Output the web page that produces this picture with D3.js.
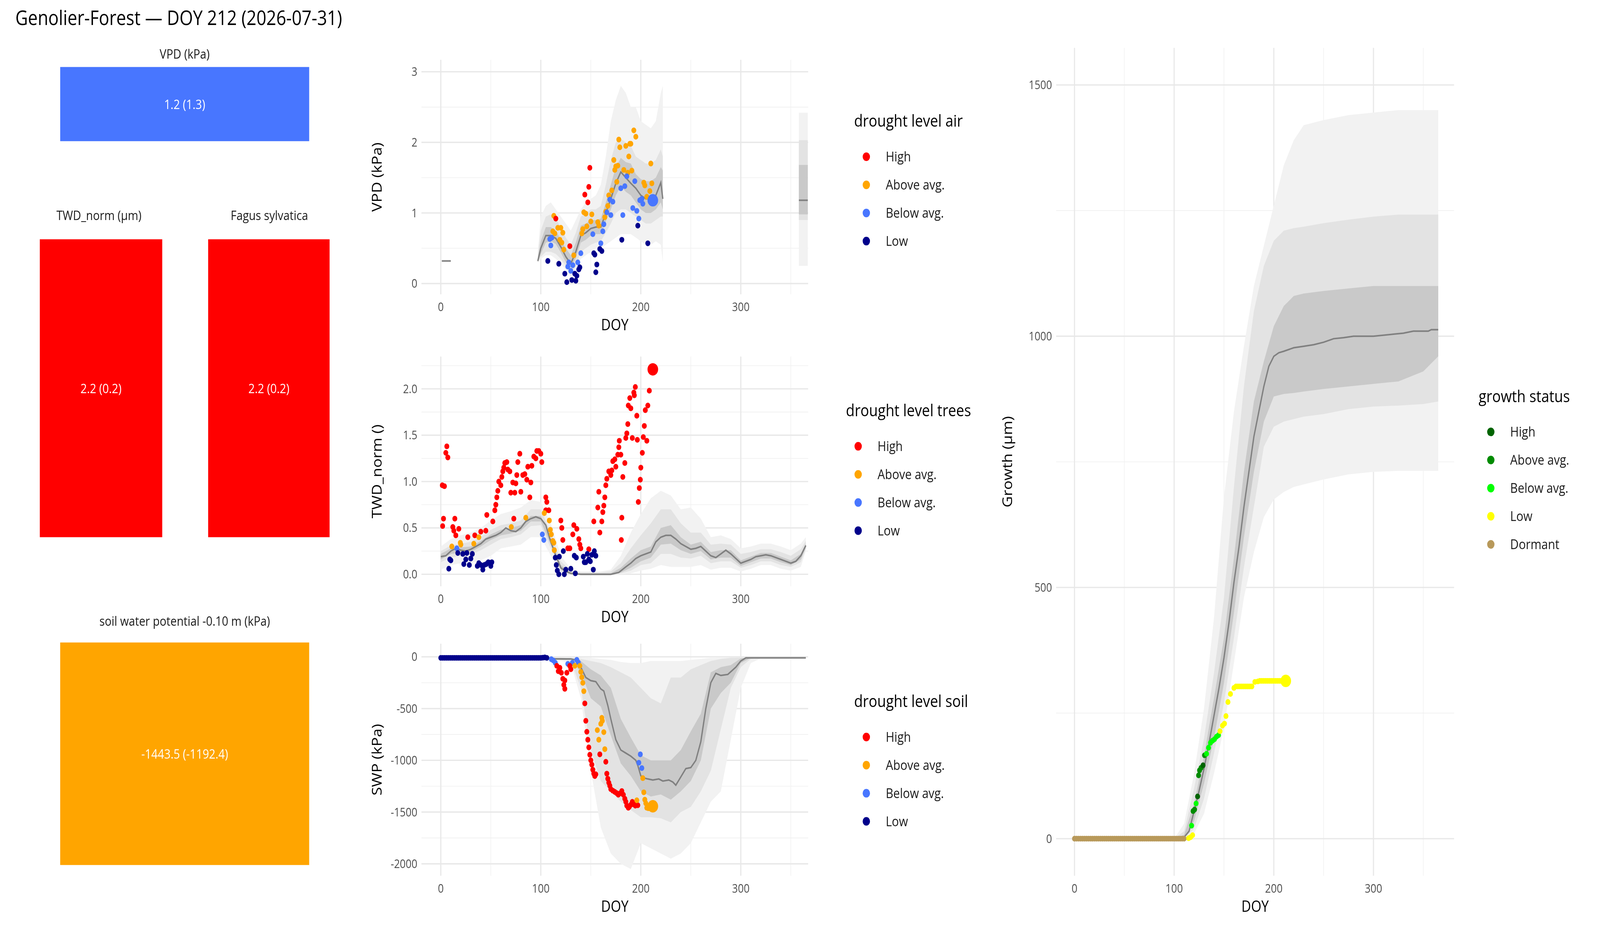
<html>
<head>
<meta charset="utf-8">
<style>
  html, body { margin: 0; padding: 0; background: #fff; overflow: hidden; width: 100%; height: 100%; }
  svg { position: fixed; left: 0; top: 0; width: 100vw; height: 100vh; }
  text { font-family: "Open Sans", "Noto Sans", sans-serif; }
</style>
</head>
<body>
<script src="https://cdn.jsdelivr.net/npm/d3@7"></script>
<script>
var airCols = { High: "#FF0000", "Above avg.": "#FFA500", "Below avg.": "#4876FF", Low: "#00008B" }
var growCols = { High: "#006400", "Above avg.": "#008B00", "Below avg.": "#00FF00", Low: "#FFFF00", Dormant: "#B8995A" }
var levels = ["High", "Above avg.", "Below avg.", "Low"]
var growLevels = ["High", "Above avg.", "Below avg.", "Low", "Dormant"]

// ---- VPD panel ----
var vpdDays = [97,100,105,110,115,120,125,130,135,140,145,150,155,160,165,170,175,180,185,190,195,200,205,210,215,220,222]
var vpdMean = [0.32,0.5,0.68,0.68,0.64,0.52,0.38,0.28,0.45,0.68,0.72,0.78,0.8,0.8,1.0,1.2,1.42,1.58,1.5,1.42,1.35,1.25,1.2,1.2,1.25,1.43,1.2]
var vpdInLo = [0.30,0.42,0.58,0.6,0.56,0.44,0.3,0.22,0.36,0.58,0.62,0.68,0.7,0.7,0.88,1.05,1.25,1.38,1.3,1.25,1.15,1.05,1.0,1.0,1.05,1.15,1.05]
var vpdInHi = [0.36,0.6,0.8,0.8,0.75,0.62,0.5,0.4,0.58,0.82,0.85,0.9,0.9,0.92,1.15,1.4,1.65,1.78,1.72,1.7,1.55,1.48,1.45,1.45,1.5,1.65,1.6]
var vpdMidLo = [0.3,0.38,0.45,0.45,0.42,0.35,0.25,0.15,0.25,0.45,0.5,0.55,0.58,0.6,0.72,0.85,1.0,1.05,1.05,1.0,0.95,0.9,0.85,0.85,0.9,0.95,0.95]
var vpdMidHi = [0.4,0.75,0.95,0.98,0.92,0.8,0.65,0.55,0.72,0.95,1.0,1.05,1.05,1.1,1.4,1.75,2.0,2.05,2.0,1.95,1.8,1.75,1.7,1.7,1.75,1.9,1.8]
var vpdOutLo = [0.3,0.35,0.4,0.4,0.35,0.28,0.2,0.1,0.18,0.35,0.4,0.45,0.5,0.5,0.55,0.6,0.65,0.7,0.7,0.7,0.65,0.6,0.55,0.55,0.6,0.55,0.3]
var vpdOutHi = [0.45,0.95,1.1,1.15,1.05,0.95,0.85,0.75,0.9,1.05,1.15,1.2,1.25,1.4,1.8,2.3,2.6,2.8,2.7,2.5,2.5,2.3,2.25,2.2,2.3,2.7,2.8]
var vpdStartDays = [1, 10], vpdStartMean = [0.32, 0.32]
var vpdEndDays = [358, 367], vpdEndMean = [1.18, 1.18]
var vpdEndIn = [0.98, 1.68], vpdEndMid = [0.9, 2.03], vpdEndOut = [0.25, 2.42]

var vpdPtDay = [113,114,117,120,122,112,119,121,123,133,141,142,143,145,146,150,151,157,158,164,165,167,168,171,173,174,175,177,178,179,176,183,185,187,188,189,190,191,193,195,203,204,206,209,210,211,
  115,129,144,147,148,149,
  109,111,110,128,127,130,132,137,140,152,160,162,163,166,169,170,172,180,182,184,186,194,192,196,198,199,201,202,
  107,118,124,126,131,134,135,136,138,139,153,154,155,156,159,161,181,197,207]
var vpdPtVal = [0.96,0.71,0.79,0.79,0.72,0.74,0.62,0.58,0.48,0.4,0.71,0.77,1.01,0.99,0.81,0.88,0.98,0.87,0.82,0.94,1.02,1.1,1.25,1.32,1.75,1.61,1.66,1.67,2.04,1.93,1.44,1.61,1.95,1.57,1.8,1.98,1.98,1.6,2.17,2.08,1.43,1.39,1.23,1.31,1.7,1.42,
  0.92,0.53,1.26,1.15,1.37,1.64,
  0.63,0.65,0.54,0.3,0.24,0.18,0.26,0.3,0.43,0.7,0.57,0.74,0.84,1.01,1.19,0.97,1.16,1.35,0.97,1.38,1.52,1.45,1.07,1.03,0.92,1.18,1.2,1.13,
  0.32,0.28,0.14,0.02,0.05,0.14,0.04,0.11,0.2,0.23,0.43,0.41,0.16,0.27,0.49,0.46,0.62,0.82,0.57]
var vpdPtLev = [].concat(Array(46).fill("Above avg."), Array(6).fill("High"), Array(28).fill("Below avg."), Array(19).fill("Low"))
var vpdNow = { day: 212, val: 1.18, lev: "Below avg." }

// ---- TWD panel ----
var twdDays = [0,10,20,30,40,50,60,70,80,90,100,110,120,130,140,150,160,170,180,190,200,210,220,230,240,250,260,270,280,290,300,310,320,330,340,350,360,365]
var twdInLo = [0.16,0.22,0.23,0.24,0.30,0.37,0.42,0.44,0.47,0.57,0.57,0.32,0.05,0,0,0,0,0,0.02,0.07,0.14,0.18,0.32,0.33,0.26,0.22,0.25,0.16,0.18,0.18,0.09,0.13,0.17,0.17,0.13,0.10,0.16,0.29]
var twdInHi = [0.22,0.28,0.29,0.30,0.36,0.43,0.48,0.50,0.53,0.63,0.63,0.38,0.10,0.02,0.01,0.01,0.01,0.01,0.07,0.17,0.26,0.30,0.50,0.53,0.40,0.32,0.35,0.24,0.26,0.26,0.15,0.19,0.23,0.23,0.19,0.15,0.22,0.33]
var twdMidLo = [0.13,0.18,0.20,0.21,0.26,0.32,0.38,0.40,0.43,0.52,0.53,0.28,0.03,0,0,0,0,0,0.01,0.04,0.10,0.12,0.22,0.22,0.18,0.17,0.20,0.12,0.14,0.14,0.07,0.10,0.14,0.14,0.10,0.08,0.13,0.27]
var twdMidHi = [0.25,0.31,0.33,0.35,0.40,0.48,0.53,0.55,0.58,0.70,0.70,0.45,0.14,0.04,0.02,0.02,0.02,0.03,0.12,0.28,0.42,0.55,0.70,0.70,0.55,0.45,0.45,0.32,0.33,0.32,0.22,0.24,0.27,0.27,0.24,0.20,0.27,0.36]
var twdOutLo = [0.05,0.10,0.12,0.12,0.15,0.20,0.28,0.30,0.32,0.40,0.40,0.20,0.02,0,0,0,0,0,0,0.01,0.04,0.06,0.10,0.08,0.08,0.08,0.10,0.05,0.07,0.07,0.03,0.06,0.10,0.10,0.06,0.04,0.08,0.25]
var twdOutHi = [0.30,0.38,0.42,0.45,0.50,0.58,0.65,0.68,0.72,0.80,0.78,0.55,0.20,0.06,0.03,0.03,0.03,0.05,0.20,0.45,0.65,0.82,0.90,0.85,0.70,0.72,0.60,0.40,0.42,0.38,0.28,0.30,0.33,0.33,0.30,0.26,0.33,0.40]
var twdLineDays = [0,5,10,15,20,25,30,35,40,45,50,55,60,65,70,75,80,85,90,95,100,105,110,115,120,125,130,140,150,160,170,178,185,190,195,200,205,210,215,220,225,230,235,240,245,250,255,260,265,270,275,280,285,290,295,300,305,310,315,320,325,330,335,340,345,350,355,360,365]
var twdLineVal = [0.19,0.2,0.25,0.28,0.26,0.25,0.27,0.3,0.33,0.38,0.4,0.42,0.45,0.5,0.47,0.46,0.5,0.57,0.6,0.62,0.6,0.53,0.35,0.2,0.07,0.03,0.01,0,0,0,0,0.02,0.08,0.12,0.17,0.2,0.22,0.24,0.35,0.4,0.42,0.42,0.38,0.33,0.3,0.27,0.28,0.3,0.25,0.2,0.18,0.22,0.26,0.22,0.17,0.12,0.14,0.16,0.19,0.2,0.21,0.2,0.18,0.16,0.14,0.12,0.14,0.2,0.31]

var twdRedDay = [1.5,3.6,2.7,1.8,5,6,7,14,12,13,15,18,27,34,40,45,46,52,54,55,56,57,58,60,61,62,63,64,66,67,69,70,72,73,74,75,76,77,79,80,82,84,86,87,89,90,91,93,95,96,98,100,101,105,106,105,108,120,121,122,127,129,132,133,136,138,139,140,148,153,157,158,159,161,162,163,164,165,166,168,170,171,172,174,175,177,178,178.5,180,180.5,181,182,184,185,186,187,187.5,189,190,191.5,193,193.5,194.5,196,196.5,197.5,198.5,199.5,200,201.5,202.5,203.5,204.5,206,207,208.5]
var twdRedVal = [0.96,0.95,0.6,0.52,1.31,1.38,1.26,0.6,0.51,0.47,0.42,0.49,0.4,0.42,0.46,0.47,0.64,0.57,0.69,0.75,0.83,0.9,1.0,0.96,1.05,1.11,1.15,1.2,1.21,1.13,1.11,0.88,0.99,0.6,0.88,0.98,1.07,1.21,1.3,0.89,1.07,1.08,1.02,1.16,0.83,0.99,1.17,1.27,1.25,1.33,1.33,1.3,1.21,0.83,0.78,0.69,0.69,0.58,0.5,0.37,0.28,0.28,0.43,0.53,0.49,0.38,0.32,0.28,0.27,0.57,0.72,0.89,0.45,0.57,0.67,0.74,0.83,0.96,1.03,1.11,1.07,1.12,1.22,1.24,1.16,1.29,1.37,1.44,1.29,0.37,0.61,1.05,1.2,1.47,1.52,1.62,1.82,1.9,1.79,1.47,1.96,1.93,2.02,1.71,1.45,0.78,0.93,1.02,1.15,1.31,1.48,1.6,1.77,1.44,1.82,1.98]
var twdOrgDay = [11,19.5,20,33,38,70.5,85,103.5,108.5,109.5,110.5,112,113,113.5]
var twdOrgVal = [0.3,0.34,0.32,0.33,0.4,0.51,0.61,0.66,0.58,0.48,0.43,0.36,0.34,0.26]
var twdBlueDay = [16,101.5,103]
var twdBlueVal = [0.28,0.43,0.37]
var twdLowDay = [8,9,10,17,22,23,25,26,28.5,30,31.5,36.5,38,40,42,43.5,45.5,47.5,50,51,114.5,115.5,116.5,118,118.5,122.5,123.5,125,130,134.5,133.5,135.5,142.5,143.5,145,146.5,148,149.5,151,152.5,153.5,155]
var twdLowVal = [0.06,0.16,0.15,0.23,0.22,0.11,0.16,0.23,0.1,0.17,0.22,0.09,0.12,0.1,0.05,0.1,0.11,0.13,0.09,0.13,0.18,0.1,0.04,0.0,0.19,0.25,0.0,0.05,0.06,0.01,0.2,0.18,0.19,0.13,0.13,0.22,0.16,0.14,0.21,0.05,0.25,0.2]
var twdNow = { day: 212, val: 2.21, lev: "High" }

// ---- SWP panel ----
var swpDays = [100,110,120,130,140,150,160,170,180,190,200,210,220,230,240,250,260,270,280,290,300,310,320,365]
var swpInLo = [-10,-20,-20,-25,-150,-400,-480,-760,-1030,-1150,-1300,-1350,-1330,-1380,-1300,-1200,-1000,-500,-350,-250,-60,-10,-10,-10]
var swpInHi = [-10,-10,-10,-15,-40,-120,-180,-300,-600,-780,-950,-1000,-1000,-1000,-900,-720,-550,-150,-100,-80,-15,-8,-8,-8]
var swpMidLo = [-10,-25,-30,-40,-300,-900,-1200,-1300,-1400,-1480,-1550,-1550,-1560,-1600,-1500,-1450,-1300,-1100,-700,-300,-100,-20,-10,-10]
var swpMidHi = [-10,-10,-10,-10,-20,-40,-60,-100,-150,-200,-300,-400,-450,-200,-200,-120,-80,-40,-20,-10,-8,-5,-5,-5]
var swpOutLo = [-10,-30,-40,-60,-400,-1100,-1650,-1900,-2000,-2050,-1800,-1850,-1900,-1950,-1900,-1800,-1600,-1400,-1300,-800,-300,-60,-15,-10]
var swpOutHi = [-5,-5,-5,-5,-5,-10,-20,-30,-50,-60,-60,-40,-40,-40,-40,-30,-20,-10,-10,-5,-5,-5,-5,-5]
var swpLineDays = [0,100,110,115,130,135,140,145,150,155,160,163,167,170,175,180,185,190,195,197,200,203,207,212,218,222,228,232,235,240,245,250,255,260,265,270,275,280,287,295,300,305,320,365]
var swpLineVal = [-10,-10,-15,-20,-20,-30,-100,-200,-230,-240,-310,-330,-470,-600,-800,-900,-930,-960,-1000,-1050,-1150,-1170,-1180,-1190,-1180,-1200,-1190,-1210,-1240,-1160,-1080,-1070,-1000,-820,-500,-250,-160,-180,-170,-100,-40,-10,-10,-10]

var swpLowDay = [0,2,4,6,8,10,12,14,16,18,20,22,24,26,28,30,32,34,36,38,40,42,44,46,48,50,52,54,56,58,60,62,64,66,68,70,72,74,76,78,80,82,84,86,88,90,92,94,96,98,100,102,104,106]
var swpLowVal = [-10,-10,-10,-10,-10,-10,-10,-10,-10,-10,-10,-10,-10,-10,-10,-10,-10,-10,-10,-10,-10,-10,-10,-10,-10,-10,-10,-10,-10,-10,-10,-10,-10,-10,-10,-10,-10,-10,-10,-10,-10,-10,-10,-10,-10,-10,-10,-10,-10,-10,-10,-8,-6,-10]
var swpBlueDay = [110.5,112.5,114.5,127,131.5,136,137.5,199.5,198,201]
var swpBlueVal = [-23,-35,-58,-68,-58,-29,-54,-942,-1023,-1075]
var swpRedDay = [116,117.5,119,120.5,122,124,123,124,126,129,130,144,145,146,147,148,149,150,151,152,153,154,155,159,165,166,167,168,169,170,172,174,176,177.5,179.5,181,182.5,184,185,186,187.5,188.5,190,191.5,193,194.5,197]
var swpRedVal = [-87,-139,-106,-154,-212,-228,-270,-309,-154,-87,-120,-450,-618,-724,-801,-875,-946,-1000,-1042,-1091,-1129,-1152,-1135,-942,-1014,-1129,-1178,-1216,-1245,-1278,-1293,-1305,-1318,-1332,-1318,-1297,-1332,-1371,-1400,-1438,-1458,-1448,-1429,-1401,-1425,-1438,-1434]
var swpOrgDay = [134,139,140,141,142,143,161,161.5,160,156.5,163,158,164,196,202,203,204,205,206,207.5]
var swpOrgVal = [-87,-87,-145,-197,-251,-332,-589,-618,-647,-708,-728,-801,-892,-1386,-1172,-1309,-1380,-1415,-1458,-1463]
var swpNow = { day: 212, val: -1444, lev: "Above avg." }

// ---- growth panel ----
var grDays = [100,110,120,130,140,150,160,170,180,190,200,210,220,230,250,275,300,325,350,365]
var grInLo = [0,0,35,110,200,310,450,600,730,830,880,885,887,890,895,900,905,910,930,960]
var grInHi = [0,8,70,165,280,400,560,730,870,950,1020,1060,1080,1085,1090,1095,1100,1100,1100,1100]
var grMidLo = [0,0,20,80,170,270,400,540,660,780,820,830,835,840,845,855,860,862,865,870]
var grMidHi = [0,15,100,200,330,480,700,900,1050,1140,1190,1210,1215,1218,1225,1232,1238,1242,1242,1242]
var grOutLo = [0,0,10,50,130,220,350,480,570,640,675,690,700,705,715,725,730,732,732,732]
var grOutHi = [0,30,130,260,440,680,850,980,1100,1180,1260,1340,1390,1420,1430,1440,1445,1450,1450,1450]
var grLineDays = [0,105,110,115,120,125,130,135,140,145,150,155,160,165,170,175,180,185,190,195,200,205,210,220,230,240,250,260,270,280,300,320,330,340,355,358,365]
var grLineVal = [0,0,3,15,55,95,140,190,245,300,360,430,510,580,660,730,800,850,900,940,960,967,970,977,980,983,988,995,997,1000,1000,1004,1006,1010,1010,1013,1013]

var grDormDay = [0,2,4,6,8,10,12,14,16,18,20,22,24,26,28,30,32,34,36,38,40,42,44,46,48,50,52,54,56,58,60,62,64,66,68,70,72,74,76,78,80,82,84,86,88,90,92,94,96,98,100,102,104,106,108,110]
var grDormVal = grDormDay.map(() => 0)
var grPtDay = [114.5,116.5,118.5,117.5,119,120.5,122,123.5,124.5,125.5,127,129,130.5,132.5,134.5,136.5,138.5,140.5,142.5,144.5,146,148.5,150.5,152,154,156.5,160,162,164,166,168,170,172,174,176,178,181,184,186,188,190,192,194,196,198,200,202,204,206,208,210]
var grPtVal = [1,3,7,26,55,58,70,84,126,136,141,146,166,169,181,191,195,198,203,206,214,225,229,244,272,288,300,303,303,303,303,303,303,303,303,303,312,313,314,314,314,314,314,314,314,314,314,314,314,314,314]
var grPtLev = ["Low","Low","Low","Below avg.","Above avg.","Above avg.","Below avg.","High","Above avg.","Above avg.","Above avg.","High","Above avg.","Below avg.","Below avg.","Below avg.","Below avg.","Below avg.","Below avg.","Below avg."].concat(Array(31).fill("Low"))
var grNow = { day: 212, val: 314, lev: "Low" }

var svg = d3.select("body").append("svg")
  .attr("viewBox", "0 0 1568 784")
  .attr("preserveAspectRatio", "none")

svg.append("text").text("Genolier-Forest — DOY 212 (2026-07-31)")
  .attr("x", 15).attr("y", 21).attr("font-size", 17).attr("fill", "#000")

function box(title, tx, ty, x0, y0, x1, y1, col, label) {
  svg.append("text").text(title).attr("x", tx).attr("y", ty)
    .attr("text-anchor", "middle").attr("font-size", 11).attr("fill", "#1a1a1a")
  svg.append("rect").attr("x", x0).attr("y", y0).attr("width", x1 - x0).attr("height", y1 - y0).attr("fill", col)
  svg.append("text").text(label).attr("x", (x0 + x1) / 2).attr("y", (y0 + y1) / 2 + 4)
    .attr("text-anchor", "middle").attr("font-size", 11).attr("fill", "#fff")
}
box("VPD (kPa)", 181, 49, 59, 56, 303, 118, "#4876FF", "1.2 (1.3)")
box("TWD_norm (µm)", 97, 184, 39, 200, 159, 449, "#FF0000", "2.2 (0.2)")
box("Fagus sylvatica", 264, 184, 204, 200, 323, 449, "#FF0000", "2.2 (0.2)")
box("soil water potential -0.10 m (kPa)", 181, 523, 59, 537, 303, 723, "#FFA500", "-1443.5 (-1192.4)")

function panel(cfg) {
  var x = d3.scaleLinear().domain([0, 300]).range(cfg.xr)
  var y = d3.scaleLinear().domain(cfg.yd).range(cfg.yr)
  var g = svg.append("g")
  cfg.xMinor.forEach(v => g.append("line").attr("x1", x(v)).attr("x2", x(v)).attr("y1", cfg.top).attr("y2", cfg.bot).attr("stroke", "#f1f1f1").attr("stroke-width", 0.6))
  cfg.yMinor.forEach(v => g.append("line").attr("x1", cfg.left).attr("x2", cfg.right).attr("y1", y(v)).attr("y2", y(v)).attr("stroke", "#f1f1f1").attr("stroke-width", 0.6))
  cfg.xTicks.forEach(v => g.append("line").attr("x1", x(v)).attr("x2", x(v)).attr("y1", cfg.top).attr("y2", cfg.bot).attr("stroke", "#e8e8e8").attr("stroke-width", 1.1))
  cfg.yTicks.forEach(v => g.append("line").attr("x1", cfg.left).attr("x2", cfg.right).attr("y1", y(v)).attr("y2", y(v)).attr("stroke", "#e8e8e8").attr("stroke-width", 1.1))
  cfg.xTicks.forEach(v => g.append("text").text(v).attr("x", x(v)).attr("y", cfg.bot + 14).attr("text-anchor", "middle").attr("font-size", 10).attr("fill", "#4d4d4d"))
  cfg.yTicks.forEach(v => g.append("text").text(cfg.fmt(v)).attr("x", cfg.left - 4).attr("y", y(v) + 3.5).attr("text-anchor", "end").attr("font-size", 10).attr("fill", "#4d4d4d"))
  g.append("text").text("DOY").attr("x", (cfg.left + cfg.right) / 2).attr("y", cfg.bot + 30).attr("text-anchor", "middle").attr("font-size", 13).attr("fill", "#000")
  g.append("text").text(cfg.ylab).attr("transform", `translate(${cfg.ylx},${(cfg.top + cfg.bot) / 2}) rotate(-90)`)
    .attr("text-anchor", "middle").attr("font-size", 13).attr("fill", "#000")
  cfg.bands.forEach(b => {
    var idx = d3.range(b.days.length)
    var area = d3.area().x(i => x(b.days[i]))
    ;[[b.outLo, b.outHi, "#f2f2f2"], [b.midLo, b.midHi, "#e3e3e3"], [b.inLo, b.inHi, "#c9c9c9"]].forEach(s => {
      g.append("path").datum(idx).attr("fill", s[2])
        .attr("d", area.y0(i => y(s[0][i])).y1(i => y(s[1][i])))
    })
  })
  cfg.lines.forEach(l => {
    g.append("path").datum(d3.range(l.days.length)).attr("fill", "none").attr("stroke", "#808080").attr("stroke-width", 1.3)
      .attr("d", d3.line().x(i => x(l.days[i])).y(i => y(l.vals[i])))
  })
  cfg.points.forEach(p => {
    g.selectAll(null).data(d3.range(p.days.length)).enter().append("circle")
      .attr("cx", i => x(p.days[i])).attr("cy", i => y(p.vals[i])).attr("r", 2.4)
      .attr("fill", i => cfg.cols[p.levs ? p.levs[i] : p.lev])
  })
  g.append("circle").attr("cx", x(cfg.now.day)).attr("cy", y(cfg.now.val)).attr("r", 5.2).attr("fill", cfg.cols[cfg.now.lev])
  var L = cfg.leg
  g.append("text").text(L.title).attr("x", L.x).attr("y", L.y).attr("font-size", 14).attr("fill", "#000")
  L.items.forEach((k, i) => {
    g.append("circle").attr("cx", L.x + 12).attr("cy", L.y + 25 + i * 23.5).attr("r", 3.6).attr("fill", cfg.cols[k])
    g.append("text").text(k).attr("x", L.x + 31).attr("y", L.y + 29 + i * 23.5).attr("font-size", 11.5).attr("fill", "#1a1a1a")
  })
}

var xTicks = [0, 100, 200, 300], xMinor = [50, 150, 250, 350]

panel({
  xr: [432, 726], yd: [0, 3], yr: [237, 60], left: 413, right: 792, top: 50, bot: 246,
  xTicks: xTicks, xMinor: xMinor, yTicks: [0, 1, 2, 3], yMinor: [0.5, 1.5, 2.5], fmt: d => d,
  ylab: "VPD (kPa)", ylx: 374, cols: airCols,
  bands: [
    { days: vpdDays, inLo: vpdInLo, inHi: vpdInHi, midLo: vpdMidLo, midHi: vpdMidHi, outLo: vpdOutLo, outHi: vpdOutHi },
    { days: vpdEndDays, inLo: [vpdEndIn[0], vpdEndIn[0]], inHi: [vpdEndIn[1], vpdEndIn[1]], midLo: [vpdEndMid[0], vpdEndMid[0]], midHi: [vpdEndMid[1], vpdEndMid[1]], outLo: [vpdEndOut[0], vpdEndOut[0]], outHi: [vpdEndOut[1], vpdEndOut[1]] }
  ],
  lines: [{ days: vpdDays, vals: vpdMean }, { days: vpdStartDays, vals: vpdStartMean }, { days: vpdEndDays, vals: vpdEndMean }],
  points: [{ days: vpdPtDay, vals: vpdPtVal, levs: vpdPtLev }],
  now: vpdNow,
  leg: { title: "drought level air", x: 837, y: 106, items: levels }
})

panel({
  xr: [432, 726], yd: [0, 2], yr: [480, 325], left: 413, right: 792, top: 298, bot: 490,
  xTicks: xTicks, xMinor: xMinor, yTicks: [0, 0.5, 1, 1.5, 2], yMinor: [0.25, 0.75, 1.25, 1.75, 2.25], fmt: d3.format(".1f"),
  ylab: "TWD_norm ()", ylx: 374, cols: airCols,
  bands: [{ days: twdDays, inLo: twdInLo, inHi: twdInHi, midLo: twdMidLo, midHi: twdMidHi, outLo: twdOutLo, outHi: twdOutHi }],
  lines: [{ days: twdLineDays, vals: twdLineVal }],
  points: [{ days: twdRedDay, vals: twdRedVal, lev: "High" }, { days: twdOrgDay, vals: twdOrgVal, lev: "Above avg." },
    { days: twdBlueDay, vals: twdBlueVal, lev: "Below avg." }, { days: twdLowDay, vals: twdLowVal, lev: "Low" }],
  now: twdNow,
  leg: { title: "drought level trees", x: 829, y: 348, items: levels }
})

panel({
  xr: [432, 726], yd: [-2000, 0], yr: [722, 549], left: 413, right: 792, top: 538, bot: 732,
  xTicks: xTicks, xMinor: xMinor, yTicks: [-2000, -1500, -1000, -500, 0], yMinor: [-1750, -1250, -750, -250], fmt: d => d,
  ylab: "SWP (kPa)", ylx: 374, cols: airCols,
  bands: [{ days: swpDays, inLo: swpInLo, inHi: swpInHi, midLo: swpMidLo, midHi: swpMidHi, outLo: swpOutLo, outHi: swpOutHi }],
  lines: [{ days: swpLineDays, vals: swpLineVal }],
  points: [{ days: swpLowDay, vals: swpLowVal, lev: "Low" }, { days: swpBlueDay, vals: swpBlueVal, lev: "Below avg." },
    { days: swpRedDay, vals: swpRedVal, lev: "High" }, { days: swpOrgDay, vals: swpOrgVal, lev: "Above avg." }],
  now: swpNow,
  leg: { title: "drought level soil", x: 837, y: 591, items: levels }
})

panel({
  xr: [1053, 1346], yd: [0, 1500], yr: [701, 71], left: 1035, right: 1425, top: 40, bot: 732,
  xTicks: xTicks, xMinor: xMinor, yTicks: [0, 500, 1000, 1500], yMinor: [250, 750, 1250], fmt: d => d,
  ylab: "Growth (µm)", ylx: 992, cols: growCols,
  bands: [{ days: grDays, inLo: grInLo, inHi: grInHi, midLo: grMidLo, midHi: grMidHi, outLo: grOutLo, outHi: grOutHi }],
  lines: [{ days: grLineDays, vals: grLineVal }],
  points: [{ days: grDormDay, vals: grDormVal, lev: "Dormant" }, { days: grPtDay, vals: grPtVal, levs: grPtLev }],
  now: grNow,
  leg: { title: "growth status", x: 1449, y: 336, items: growLevels }
})
</script>
</body>
</html>
